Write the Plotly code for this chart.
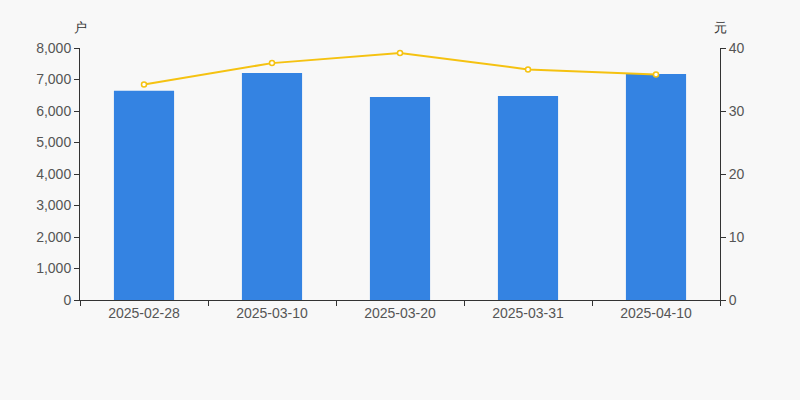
import plotly.graph_objects as go

dates = ["2025-02-28", "2025-03-10", "2025-03-20", "2025-03-31", "2025-04-10"]
holders = [6645, 7206, 6444, 6476, 7175]
price = [34.2, 37.6, 39.2, 36.6, 35.8]

fig = go.Figure()
fig.add_trace(go.Bar(x=dates, y=holders, marker=dict(color="#3483e2", line=dict(width=0)), yaxis="y"))
fig.add_trace(go.Scatter(x=dates, y=price, yaxis="y2", mode="lines+markers",
                         line=dict(color="#f5c211", width=2),
                         marker=dict(size=5, color="#ffffff", line=dict(color="#f5c211", width=1.5))))

axis_font = dict(family="Liberation Sans, Arial, sans-serif", size=14, color="#555555")
common = dict(ticks="outside", ticklen=5, tickcolor="#333333", showline=True,
              linecolor="#333333", linewidth=1, showgrid=False, tickfont=axis_font)
fig.update_layout(
    width=800, height=400,
    margin=dict(l=80, r=80, t=48, b=100),
    paper_bgcolor="#f8f8f8", plot_bgcolor="#f8f8f8",
    showlegend=False, bargap=0.53,
    font=axis_font,
    xaxis=dict(type="category", tickson="boundaries", **common),
    yaxis=dict(range=[0, 8000], dtick=1000, tickformat=",d", zeroline=False, **common),
    yaxis2=dict(range=[0, 40], dtick=10, overlaying="y", side="right", zeroline=False, **common),
)
fig.add_annotation(text="户", xref="paper", yref="paper", x=0.0, y=1.0, yshift=21,
                   xanchor="center", yanchor="middle", showarrow=False,
                   font=dict(size=13, color="#333333"))
fig.add_annotation(text="元", xref="paper", yref="paper", x=1.0, y=1.0, yshift=21,
                   xanchor="center", yanchor="middle", showarrow=False,
                   font=dict(size=13, color="#333333"))
fig.write_html("out.html", config={"displayModeBar": False},
               post_script="document.body.style.margin='0';document.body.style.background='#f8f8f8';")
